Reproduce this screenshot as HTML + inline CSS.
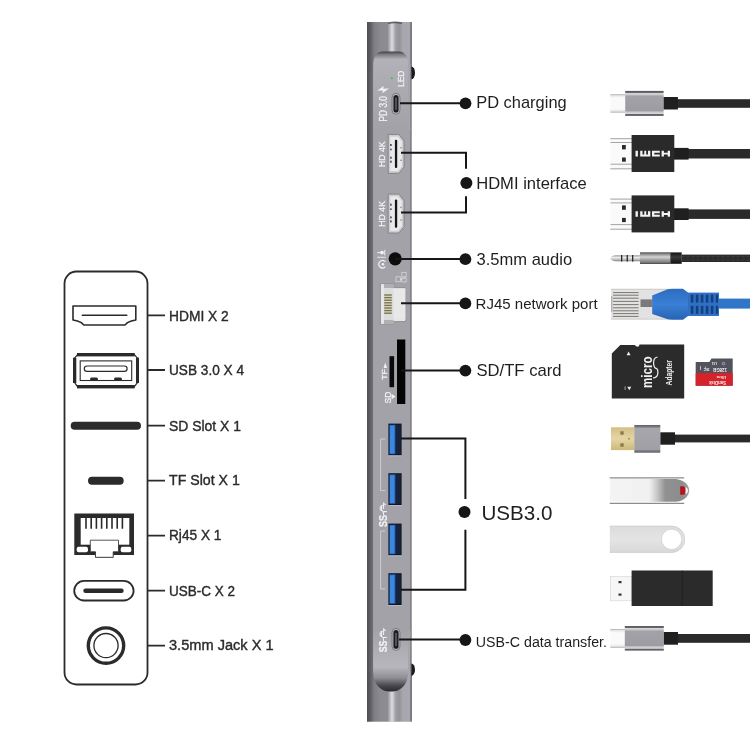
<!DOCTYPE html>
<html><head><meta charset="utf-8">
<style>
html,body{margin:0;padding:0;background:#fff;width:750px;height:750px;overflow:hidden}
svg{display:block;will-change:transform}
text{font-family:"Liberation Sans",sans-serif}
</style></head>
<body>
<svg width="750" height="750" viewBox="0 0 750 750">
<defs>
  <linearGradient id="hubTop" x1="367" y1="0" x2="411.6" y2="0" gradientUnits="userSpaceOnUse">
    <stop offset="0" stop-color="#4c4c52"/>
    <stop offset="0.08" stop-color="#5e5e64"/>
    <stop offset="0.16" stop-color="#7e7e84"/>
    <stop offset="0.3" stop-color="#8a8a90"/>
    <stop offset="0.46" stop-color="#8c8c92"/>
    <stop offset="0.56" stop-color="#dedee4"/>
    <stop offset="0.64" stop-color="#a0a0a6"/>
    <stop offset="0.72" stop-color="#929298"/>
    <stop offset="0.8" stop-color="#a6a6ac"/>
    <stop offset="0.96" stop-color="#a8a8ae"/>
    <stop offset="0.98" stop-color="#707076"/>
    <stop offset="1" stop-color="#5e5e64"/>
  </linearGradient>
  <linearGradient id="hubSide" x1="367" y1="0" x2="411.6" y2="0" gradientUnits="userSpaceOnUse">
    <stop offset="0" stop-color="#4c4c52"/>
    <stop offset="0.05" stop-color="#5a5a60"/>
    <stop offset="0.13" stop-color="#6e6e74"/>
    <stop offset="0.14" stop-color="#9a99a0"/>
    <stop offset="0.965" stop-color="#a3a2a9"/>
    <stop offset="0.975" stop-color="#707076"/>
    <stop offset="1" stop-color="#5e5e64"/>
  </linearGradient>
  <linearGradient id="plateTop" x1="0" y1="51.4" x2="0" y2="130" gradientUnits="userSpaceOnUse">
    <stop offset="0" stop-color="#3e3e44"/>
    <stop offset="0.04" stop-color="#7c7c82"/>
    <stop offset="0.1" stop-color="#b2b2b8"/>
    <stop offset="0.35" stop-color="#acacb2"/>
    <stop offset="1" stop-color="#a3a2a9"/>
  </linearGradient>
  <linearGradient id="plateBot" x1="0" y1="630" x2="0" y2="691.4" gradientUnits="userSpaceOnUse">
    <stop offset="0" stop-color="#a3a2a9"/>
    <stop offset="0.6" stop-color="#b6b6bc"/>
    <stop offset="0.78" stop-color="#8e8e94"/>
    <stop offset="0.9" stop-color="#4a4a50"/>
    <stop offset="1" stop-color="#2a2a30"/>
  </linearGradient>
</defs>

<!-- ============ LEFT PANEL ============ -->
<g fill="none" stroke="#2b2b2b" stroke-width="1.8">
  <rect x="64.5" y="271.5" width="83" height="413" rx="12" ry="12"/>
  <!-- connector ticks -->
  <path d="M148 315.3H165M148 370H165M148 425.6H165M148 480.7H165M148 535.7H165M148 590.7H165M148 645.6H165"/>
  <!-- HDMI icon -->
  <path d="M73 306H135.8V320Q131 320.6 127.5 322.6L125 325H83.8L81.3 322.6Q77.8 320.6 73 320Z" stroke-width="1.6" stroke-linejoin="round"/>
  <path d="M82.3 315.2H126.8" stroke-width="1.5" stroke-linecap="round"/>
</g>
<!-- USB icon -->
<g fill="#2b2b2b">
  <rect x="77" y="353" width="57.7" height="3.4"/>
  <rect x="77" y="385" width="57.7" height="3.4"/>
  <rect x="73" y="357.7" width="3.3" height="25.3"/>
  <rect x="136" y="357.7" width="3" height="25.3"/>
  <rect x="90" y="377.5" width="8" height="3" rx="1.5"/>
  <rect x="114" y="377.5" width="8" height="3" rx="1.5"/>
  <!-- SD / TF bars -->
  <rect x="70.7" y="421.7" width="70.3" height="8" rx="4"/>
  <rect x="88" y="476.7" width="35.7" height="8" rx="4"/>
  <!-- RJ45 -->
  <path d="M74.3 513.6H134V555H113.3V557.6H95.3V555H74.3Z"/>
</g>
<g fill="none" stroke="#2b2b2b">
  <path d="M77.5 354.7H134.3L137.5 358.2V382.6L134.3 386.7H77.5L74.6 382.6V358.2Z" stroke-width="1.2"/>
  <rect x="80.2" y="360.9" width="51.5" height="19.6" stroke-width="1.1"/>
  <rect x="84.3" y="366" width="42.8" height="5.4" rx="2.7" stroke-width="1.2"/>
</g>
<g>
  <rect x="80.7" y="518" width="48.6" height="26.7" fill="#fff"/>
  <g stroke="#2b2b2b" stroke-width="1.6">
    <path d="M86 518V528.7M91.2 518V528.7M96.4 518V528.7M101.6 518V528.7M106.8 518V528.7M112 518V528.7M117.2 518V528.7M122.4 518V528.7"/>
  </g>
  <rect x="76.7" y="546.7" width="11.3" height="5.6" rx="2" fill="#fff"/>
  <rect x="120.7" y="546.7" width="10.6" height="5.6" rx="2" fill="#fff"/>
  <path d="M90.3 540.2H118.5V551.8H113.2V557.3H95.5V551.8H90.3Z" fill="#fff" stroke="#2b2b2b" stroke-width="0.8"/>
</g>
<!-- USB-C -->
<g fill="none" stroke="#2b2b2b">
  <rect x="74.2" y="580.9" width="59.4" height="19.6" rx="9.8" stroke-width="1.8"/>
  <path d="M85.5 590.8H121.5" stroke-width="4.4" stroke-linecap="round"/>
  <circle cx="106" cy="645.6" r="17.7" stroke-width="3.4"/>
  <circle cx="106" cy="645.6" r="12.1" stroke-width="1.3"/>
</g>
<g fill="#2b2b2b" stroke="#2b2b2b" stroke-width="0.4" font-size="15.2" lengthAdjust="spacingAndGlyphs">
  <text x="169" y="321.4" textLength="59.8" lengthAdjust="spacingAndGlyphs">HDMI X 2</text>
  <text x="169" y="375" textLength="75" lengthAdjust="spacingAndGlyphs">USB 3.0 X 4</text>
  <text x="169" y="431.1" textLength="72" lengthAdjust="spacingAndGlyphs">SD Slot X 1</text>
  <text x="169" y="484.9" textLength="70.8" lengthAdjust="spacingAndGlyphs">TF Slot X 1</text>
  <text x="169" y="540" textLength="52.4" lengthAdjust="spacingAndGlyphs">Rj45 X 1</text>
  <text x="169" y="595.6" textLength="66" lengthAdjust="spacingAndGlyphs">USB-C X 2</text>
  <text x="169" y="650.3" textLength="104.6" lengthAdjust="spacingAndGlyphs">3.5mm Jack X 1</text>
</g>

<!-- ============ HUB ============ -->
<g>
  <rect x="367" y="22" width="44.6" height="699.5" fill="url(#hubSide)"/>
  <rect x="367" y="22" width="44.6" height="50" fill="url(#hubTop)"/>
  <rect x="367" y="672" width="44.6" height="49.5" fill="url(#hubTop)"/>
  <path d="M388 22.5Q395 20.5 402 22.5V24Q395 22.5 388 24Z" fill="#4a4a50" opacity="0.8"/>
  <!-- side bumps -->
  <path d="M411.4 66.5a3.6 6.4 0 0 1 0 12.8z" fill="#1a1a1e"/>
  <path d="M411.4 663.5a3.6 6.2 0 0 1 0 12.4z" fill="#1a1a1e"/>
  <!-- plate -->
  <path d="M373.2 130V65.5C373.2 57 376.5 51.4 382.5 51.4H399C405 51.4 408.3 57 408.3 65.5V130Z" fill="url(#plateTop)"/>
  <rect x="373.2" y="128" width="37.2" height="510" fill="#a3a2a9"/>
    <path d="M408.3 64V130H410.4V64Z" fill="#a6a6ac"/>
  <path d="M373.2 630V670C373.2 685.5 381 691.6 390.8 691.6C400.5 691.6 408.3 685.5 408.3 670V630Z" fill="url(#plateBot)"/>
  <path d="M408.3 630V680H410.4V630Z" fill="#a6a6ac"/>
</g>
<!-- hub ports -->
<g>
  <!-- PD usb-c -->
  <rect x="392.1" y="93.4" width="7.8" height="20.8" rx="3.9" fill="#c4c4c8" stroke="#5a5a60" stroke-width="0.7"/>
  <rect x="393.4" y="95" width="5.2" height="17.6" rx="2.6" fill="#1c1c20"/>
  <rect x="395.3" y="97.6" width="1.4" height="12.4" rx="0.7" fill="#6a6a70"/>
  <!-- HDMI 1 -->
  <g id="hd1">
    <path d="M388.2 134.4H398.8L404 140.8V167L398.8 173.3H388.2Z" fill="#cfcfd2" stroke="#76767c" stroke-width="0.8"/>
    <path d="M389.8 136.2H398L402.3 141.6V166.2L398 171.5H389.8Z" fill="#e9e9eb" stroke="#bcbcc0" stroke-width="0.4"/>
    <rect x="394.9" y="139.7" width="2.3" height="28.3" rx="1" fill="#161618"/>
    <g fill="#4a4a4e">
      <rect x="390.1" y="144" width="1.6" height="2"/>
      <rect x="390.1" y="148.7" width="1.6" height="1.6"/>
      <rect x="390.1" y="156.7" width="1.6" height="2"/>
      <rect x="390.1" y="160.7" width="1.6" height="2"/>
    </g>
    <rect x="400.3" y="147" width="1.4" height="1.4" fill="#8a8a8e"/>
    <rect x="400.3" y="159.6" width="1.4" height="1.4" fill="#8a8a8e"/>
  </g>
  <use href="#hd1" y="59.7"/>
  <!-- audio jack -->
  <circle cx="395.2" cy="258.8" r="6.6" fill="#0c0c0c"/>
  <!-- RJ45 -->
  <path d="M380.4 283.6H393.8V288H405.6V321.6H393.8V324.4H380.4Z" fill="#e6e6e8" stroke="#7c7c82" stroke-width="0.7"/>
  <rect x="384" y="284" width="9.6" height="4.2" fill="#b0b0b2"/>
  <rect x="384" y="320" width="9.6" height="4.2" fill="#b0b0b2"/>
  <rect x="384" y="288.2" width="21.4" height="31.8" fill="#dcdcdc"/>
  <rect x="393.6" y="288.6" width="11.6" height="31.2" fill="#e8e8e8"/>
  <g fill="#7a7440">
    <rect x="384.2" y="294.3" width="7.6" height="1.4"/>
    <rect x="384.2" y="296.9" width="7.6" height="1.4"/>
    <rect x="384.2" y="299.5" width="7.6" height="1.4"/>
    <rect x="384.2" y="302.1" width="7.6" height="1.4"/>
    <rect x="384.2" y="304.7" width="7.6" height="1.4"/>
    <rect x="384.2" y="307.3" width="7.6" height="1.4"/>
    <rect x="384.2" y="309.9" width="7.6" height="1.4"/>
    <rect x="384.2" y="312.5" width="7.6" height="1.4"/>
  </g>
  <!-- SD / TF slots -->
  <rect x="397" y="339.5" width="8.3" height="64.5" fill="#050505"/>
  <rect x="389.5" y="356.2" width="4.6" height="31" fill="#0a0a0a"/>
  <!-- USB A ports -->
  <g id="ua1">
    <rect x="388.4" y="423.6" width="13.2" height="31.8" fill="#0e1626"/>
    <rect x="389.4" y="424.8" width="6.2" height="29.4" fill="#2a62b8"/>
    <rect x="390" y="425.6" width="4.4" height="27.8" fill="#3b88de"/>
    <rect x="395.6" y="424.8" width="5.2" height="29.4" fill="#17233c"/>
    <rect x="388.4" y="455.4" width="13.2" height="0.9" fill="#bcbcc2"/>
  </g>
  <use href="#ua1" y="49.6"/>
  <use href="#ua1" y="100"/>
  <use href="#ua1" y="149.6"/>
  <!-- bottom usb-c -->
  <rect x="392.1" y="628.5" width="7.8" height="21.9" rx="3.9" fill="#c4c4c8" stroke="#5a5a60" stroke-width="0.7"/>
  <rect x="393.4" y="630.1" width="5.2" height="18.7" rx="2.6" fill="#1c1c20"/>
  <rect x="395.3" y="632.8" width="1.4" height="13.3" rx="0.7" fill="#6a6a70"/>
  <!-- LED dot -->
  <circle cx="391.8" cy="78.3" r="1" fill="#39c24a"/>
  <!-- SS bracket -->
  <path d="M385.3 439H380.6V490.6H385.3M385.3 531H380.6V589H385.3" fill="none" stroke="#dcdce0" stroke-width="0.7"/>
</g>
<g fill="#f2f2f4" stroke="#f2f2f4" stroke-width="0.25">
  <text transform="translate(403.6 87) rotate(-90)" font-size="8.8" textLength="16.4" lengthAdjust="spacingAndGlyphs">LED</text>
  <text transform="translate(387.3 121.5) rotate(-90)" font-size="10.2" textLength="25.5" lengthAdjust="spacingAndGlyphs">PD 3.0</text>
  <path d="M377.6 90.6L383.4 86.2L383.2 89L388.6 88.4L382.6 93L382.8 90.2Z"/>
  <text transform="translate(384.8 167) rotate(-90)" font-size="8.8" textLength="25.7" lengthAdjust="spacingAndGlyphs">HD 4K</text>
  <text transform="translate(384.8 226.7) rotate(-90)" font-size="8.8" textLength="25.7" lengthAdjust="spacingAndGlyphs">HD 4K</text>
  <text transform="translate(386.7 380) rotate(-90)" font-size="7.8" textLength="11" lengthAdjust="spacingAndGlyphs">TF</text>
  <text transform="translate(391 403.5) rotate(-90)" font-size="8.8" textLength="11.8" lengthAdjust="spacingAndGlyphs">SD</text>
  <path d="M383.6 368L385.3 362.6L387 368Z" stroke="none"/>
  <path d="M391.6 394L395.6 396.6L391.6 399.2Z" stroke="none"/>
  <text transform="translate(387 527) rotate(-90)" font-size="10" font-weight="bold" textLength="12" lengthAdjust="spacingAndGlyphs">SS</text>
  <text transform="translate(387 652.2) rotate(-90)" font-size="10" font-weight="bold" textLength="11.6" lengthAdjust="spacingAndGlyphs">SS</text>
</g>
<g fill="none" stroke="#f2f2f4" stroke-width="0.9" stroke-linecap="round">
  <!-- SS trident approx -->
  <path d="M383.6 514.8Q383.6 511 381.4 510.6Q379.8 510.2 380.2 507M383.6 511.6H386.4M381.6 510.4V506.4M383.6 508.6V503.2L385.4 504.8M380.6 506.2L382.4 505.4" stroke-width="1.05"/>
  <path d="M383.6 640.6Q383.6 636.8 381.4 636.4Q379.8 636 380.2 632.8M383.6 637.4H386.4M381.6 636.2V632.2M383.6 634.4V629L385.4 630.6M380.6 632L382.4 631.2" stroke-width="1.05"/>
  <!-- headphone / mic icon -->
  <path d="M377.6 252.6H380.2M384.8 250.3V255" stroke-width="1"/>
  <path d="M377.6 257.3H385.4" stroke-width="0.9"/>
  <path d="M385 261.4A3.7 3.7 0 1 0 385 267" stroke-width="1.2"/>
  <!-- network icon -->
  <path d="M396.3 276.8H400.6V281.6H396.3ZM402.2 272.4H406.2V277H402.2ZM402.2 278H406.2V282H402.2ZM400.6 279.2H402.2M404.2 277V278" stroke-width="0.55"/>
</g>
<g fill="#f2f2f4">
  <circle cx="382" cy="252.6" r="1.9"/>
  <circle cx="382.9" cy="264.2" r="1.3"/>
</g>
<!-- ============ LABEL LINES ============ -->
<g fill="none" stroke="#161616" stroke-width="2">
  <path d="M400 103.2H465"/>
  <path d="M401 152.8H466V168.8M466 196.3V212.4H401"/>
  <path d="M395 259H465"/>
  <path d="M401 303.3H465"/>
  <path d="M401 370.5H465"/>
  <path d="M401 438.5H465.4V499M465.4 529.7V589.7H401"/>
  <path d="M399 639.5H465"/>
</g>
<g fill="#161616">
  <circle cx="465.5" cy="103.3" r="5.9"/>
  <circle cx="466.4" cy="182.9" r="6"/>
  <circle cx="465.4" cy="259.2" r="5.9"/>
  <circle cx="465.4" cy="303.4" r="5.9"/>
  <circle cx="465.4" cy="370.6" r="5.9"/>
  <circle cx="464.5" cy="512" r="6"/>
  <circle cx="465.4" cy="640" r="5.9"/>
</g>
<g fill="#1e1e1e" font-size="16.2">
  <text x="476.2" y="108.2" textLength="90.5" lengthAdjust="spacingAndGlyphs">PD charging</text>
  <text x="476.2" y="189.4" textLength="110.5" lengthAdjust="spacingAndGlyphs">HDMI interface</text>
  <text x="476.6" y="265.2" textLength="95.5" lengthAdjust="spacingAndGlyphs">3.5mm audio</text>
  <text x="475.6" y="308.7" font-size="15.4" textLength="122" lengthAdjust="spacingAndGlyphs">RJ45 network port</text>
  <text x="476.5" y="376.1" textLength="85" lengthAdjust="spacingAndGlyphs">SD/TF card</text>
  <text x="481.4" y="520" font-size="20.4" textLength="71" lengthAdjust="spacingAndGlyphs">USB3.0</text>
  <text x="475.8" y="646.9" font-size="15.4" textLength="131.2" lengthAdjust="spacingAndGlyphs">USB-C data transfer.</text>
</g>

<!-- ============ CABLES ============ -->
<defs>
  <linearGradient id="sleeveC" x1="0" y1="0" x2="0" y2="1">
    <stop offset="0" stop-color="#58585c"/>
    <stop offset="0.07" stop-color="#6a6a6e"/>
    <stop offset="0.09" stop-color="#d6d6da"/>
    <stop offset="0.16" stop-color="#c8c8cc"/>
    <stop offset="0.2" stop-color="#a2a2a8"/>
    <stop offset="0.8" stop-color="#9c9ca2"/>
    <stop offset="0.84" stop-color="#c8c8cc"/>
    <stop offset="0.91" stop-color="#d6d6da"/>
    <stop offset="0.93" stop-color="#6a6a6e"/>
    <stop offset="1" stop-color="#58585c"/>
  </linearGradient>
  <linearGradient id="tipC" x1="0" y1="0" x2="0" y2="1">
    <stop offset="0" stop-color="#a8a8a8"/>
    <stop offset="0.08" stop-color="#e6e6e6"/>
    <stop offset="0.2" stop-color="#fafafa"/>
    <stop offset="0.8" stop-color="#fafafa"/>
    <stop offset="0.92" stop-color="#e6e6e6"/>
    <stop offset="1" stop-color="#a8a8a8"/>
  </linearGradient>
  <linearGradient id="jackSl" x1="0" y1="0" x2="0" y2="1">
    <stop offset="0" stop-color="#4a4a4a"/>
    <stop offset="0.15" stop-color="#8a8a8a"/>
    <stop offset="0.4" stop-color="#d6d6d6"/>
    <stop offset="0.6" stop-color="#a8a8a8"/>
    <stop offset="0.85" stop-color="#808080"/>
    <stop offset="1" stop-color="#444"/>
  </linearGradient>
  <linearGradient id="jackTip" x1="0" y1="0" x2="0" y2="1">
    <stop offset="0" stop-color="#9a9a9a"/>
    <stop offset="0.35" stop-color="#ececec"/>
    <stop offset="0.7" stop-color="#c0c0c0"/>
    <stop offset="1" stop-color="#7a7a7a"/>
  </linearGradient>
  <linearGradient id="jackBand" x1="0" y1="0" x2="0" y2="1">
    <stop offset="0" stop-color="#111"/>
    <stop offset="0.4" stop-color="#3a3a3a"/>
    <stop offset="1" stop-color="#111"/>
  </linearGradient>
  <linearGradient id="gold" x1="0" y1="0" x2="0" y2="1">
    <stop offset="0" stop-color="#d2bf84"/>
    <stop offset="0.5" stop-color="#e4d6a4"/>
    <stop offset="1" stop-color="#cdb87a"/>
  </linearGradient>
  <linearGradient id="sleeveA" x1="0" y1="0" x2="0" y2="1">
    <stop offset="0" stop-color="#5e5e64"/>
    <stop offset="0.07" stop-color="#7a7a80"/>
    <stop offset="0.12" stop-color="#a6a6ac"/>
    <stop offset="0.88" stop-color="#a0a0a6"/>
    <stop offset="0.93" stop-color="#7a7a80"/>
    <stop offset="1" stop-color="#5e5e64"/>
  </linearGradient>
  <linearGradient id="flash1" x1="609.8" y1="0" x2="689" y2="0" gradientUnits="userSpaceOnUse">
    <stop offset="0" stop-color="#f4f4f4"/>
    <stop offset="0.5" stop-color="#f0f0f0"/>
    <stop offset="0.6" stop-color="#c6c6c6"/>
    <stop offset="0.7" stop-color="#919191"/>
    <stop offset="0.9" stop-color="#8c8c8c"/>
    <stop offset="1" stop-color="#a0a0a0"/>
  </linearGradient>
  <linearGradient id="flash2" x1="0" y1="0" x2="0" y2="1">
    <stop offset="0" stop-color="#dcdcdc"/>
    <stop offset="0.5" stop-color="#e4e4e4"/>
    <stop offset="1" stop-color="#d8d8d8"/>
  </linearGradient>
  <linearGradient id="blueBoot" x1="0" y1="0" x2="0" y2="1">
    <stop offset="0" stop-color="#2d6cc0"/>
    <stop offset="0.5" stop-color="#3a80d6"/>
    <stop offset="1" stop-color="#2863b4"/>
  </linearGradient>
</defs>
<!-- USB-C cable top -->
<g id="cc1">
  <rect x="677" y="99.2" width="73" height="8.6" fill="#2a2a2a"/>
  <rect x="663.3" y="97" width="14.6" height="12.5" fill="#1f1f1f"/>
  <rect x="610.3" y="94.2" width="15" height="18.4" fill="url(#tipC)"/>
  <rect x="625.2" y="90.9" width="38.4" height="25" fill="url(#sleeveC)"/>
</g>
<!-- HDMI cables -->
<g id="hdc">
  <rect x="688" y="149" width="62" height="9.5" fill="#2a2a2a"/>
  <rect x="674" y="147.9" width="14.6" height="11.7" fill="#1f1f1f"/>
  <rect x="610.3" y="137.8" width="21.8" height="32" fill="#fafafa"/>
  <path d="M610.3 138.7H632M610.3 168.8H632M610.5 142.5H632M610.5 164.2H632" stroke="#9a9a9a" stroke-width="0.9"/>
  <rect x="622" y="145" width="3.8" height="4.4" fill="#2a2a2a"/>
  <rect x="622" y="157.5" width="3.8" height="4.2" fill="#2a2a2a"/>
  <rect x="631.6" y="135" width="42.7" height="37" fill="#2a2a2a"/>
  <path d="M635.5 150.8h2.4v5.6h-2.4zM640.2 150.8h2.3v3.6h1.8v-3.6h1.9v3.6h1.8v-3.6h2.3v5.6h-10.1zM652 150.8h7.8v2h-5.5v1.6h5.5v2h-7.8zM661.6 150.8h2.3v1.9h3.8v-1.9h2.3v5.6h-2.3v-1.8h-3.8v1.8h-2.3z" fill="#f2f2f2"/>
</g>
<use href="#hdc" y="60.4"/>
<!-- audio -->
<g>
  <rect x="681.5" y="254.6" width="68.5" height="7.4" fill="#2c2c2c"/>
  <path d="M681.5 256.4H750M681.5 260H750" stroke="#4a4a4a" stroke-width="0.6" stroke-dasharray="3 2"/>
  <path d="M640 255.3H616Q611 255.6 610.6 258.3Q611 261 616 261.3H640Z" fill="url(#jackTip)"/>
  <rect x="621" y="255" width="1.3" height="6.6" fill="#2a2a2a"/>
  <rect x="626.6" y="255" width="1.3" height="6.6" fill="#2a2a2a"/>
  <rect x="632" y="255" width="1.3" height="6.6" fill="#2a2a2a"/>
  <rect x="640" y="252.3" width="30.4" height="11.7" fill="url(#jackSl)"/>
  <rect x="670.3" y="252.4" width="11.4" height="11.4" fill="url(#jackBand)"/>
</g>
<!-- RJ45 cable -->
<g>
  <rect x="716" y="298.6" width="34" height="10" fill="#3076c8"/>
  <rect x="611" y="288.8" width="59" height="30.8" fill="#e2e2e2"/>
  <rect x="611" y="288.8" width="59" height="1.2" fill="#cfcfcf"/>
  <rect x="611" y="318.4" width="59" height="1.2" fill="#d2d2d2"/>
  <path d="M613 292.6H638.6M613 295.2H638.6M613 298.2H638.6M613 301.4H638.6M613 304.6H638.6M613 307.8H638.6M613 310.8H638.6M613 313.6H638.6M613 316.4H638.6" stroke="#6e6a62" stroke-width="0.9"/>
  <path d="M611.8 296V312" stroke="#8a8a8a" stroke-width="0.8"/>
  <rect x="640.5" y="299.4" width="12" height="7.6" fill="#7a7a7a"/>
  <path d="M652.2 295.6L667 289.6Q669 288.8 672 288.8H683L688 292.6V316L683 319.8H672Q669 319.8 667 319L652.2 314Z" fill="url(#blueBoot)"/>
  <rect x="688" y="292.6" width="31" height="23.4" fill="#2e70c4"/>
  <g fill="#173f7e">
    <rect x="690.8" y="294.6" width="2.6" height="8"/><rect x="695.8" y="294.6" width="2.6" height="8"/><rect x="700.8" y="294.6" width="2.6" height="8"/><rect x="705.8" y="294.6" width="2.6" height="8"/><rect x="710.8" y="294.6" width="2.6" height="8"/><rect x="715.8" y="294.6" width="2.2" height="8"/>
    <rect x="690.8" y="305.8" width="2.6" height="8"/><rect x="695.8" y="305.8" width="2.6" height="8"/><rect x="700.8" y="305.8" width="2.6" height="8"/><rect x="705.8" y="305.8" width="2.6" height="8"/><rect x="710.8" y="305.8" width="2.6" height="8"/><rect x="715.8" y="305.8" width="2.2" height="8"/>
  </g>
</g>
<!-- microSD adapter + card -->
<g>
  <path d="M620.3 345H634.7L636.5 346.6H638.8L639.5 344.6H684.2V398.5H611.8V353.5Z" fill="#2b2b2b"/>
  <text transform="translate(652.4 388) rotate(-90)" font-size="15.5" font-weight="bold" fill="#f2f2f2" textLength="31.6" lengthAdjust="spacingAndGlyphs">micro</text>
  <text transform="translate(671.8 385.4) rotate(-90)" font-size="8.8" font-weight="bold" fill="#f2f2f2" textLength="25.2" lengthAdjust="spacingAndGlyphs">Adapter</text>
  <path d="M657.6 357Q653 357.6 653.6 364.2Q654.2 368.4 656.2 368.4Q658.2 369 657.8 373.6Q657.2 377.8 653 378" stroke="#f2f2f2" stroke-width="1.2" fill="none"/>
  <path d="M628.6 351.6L630.6 355.2H626.6Z" fill="#eee"/>
  <path d="M629.3 390.2L631.3 386.8H627.3Z" fill="#eee"/>
  <rect x="624.6" y="386.4" width="1" height="3.4" fill="#aaa"/>
  <path d="M695.7 362H709.3L711.5 358.6H732.7V385.7H695.7Z" fill="#52525c"/>
  <rect x="695.7" y="373" width="37" height="12.7" fill="#d6222a"/>
  <g fill="#ececf0">
    <text transform="translate(727 367.6) rotate(180)" font-size="5.6" font-weight="bold" textLength="14" lengthAdjust="spacingAndGlyphs">128GB</text>
    <text transform="translate(717 362) rotate(180)" font-size="4" font-weight="bold">U1</text>
    <circle cx="723.6" cy="363.6" r="1.3" fill="none" stroke="#ececf0" stroke-width="0.5"/>
    <text transform="translate(709.6 367.6) rotate(180)" font-size="4.4" font-weight="bold">XC</text>
    <rect x="700" y="366" width="0.7" height="4"/>
    <rect x="705" y="366.5" width="0.6" height="3"/>
  </g>
  <g fill="#f8eaea">
    <text transform="translate(726.2 376.4) rotate(180)" font-size="4.2" font-weight="bold">Ultra</text>
    <text transform="translate(726 381.2) rotate(180)" font-size="5" font-weight="bold" textLength="17" lengthAdjust="spacingAndGlyphs">SanDisk</text>
  </g>
</g>
<!-- USB-A cable -->
<g>
  <rect x="675" y="434.6" width="75" height="7.8" fill="#2a2a2a"/>
  <rect x="660.2" y="432.3" width="14.8" height="12.4" fill="#1f1f1f"/>
  <rect x="611" y="427.3" width="23.6" height="22.8" fill="url(#gold)"/>
  <rect x="620.3" y="431.3" width="3.4" height="3.4" fill="#8a7a4a"/>
  <rect x="620.3" y="443.3" width="3.4" height="3.4" fill="#8a7a4a"/>
  <circle cx="629" cy="438.7" r="1" fill="#a8945a"/>
  <rect x="634.3" y="425" width="26" height="27.7" fill="url(#sleeveA)"/>
</g>
<!-- flash drives -->
<g>
  <path d="M609.8 479H676C685.5 480.5 689.2 486 689.2 490.4C689.2 495 685.5 500.4 676 501.8H609.8Z" fill="url(#flash1)"/>
  <path d="M609.8 477.9H684.2M609.8 503.3H684.2" stroke="#8c8c8c" stroke-width="1.2"/>
  <path d="M680.2 486.2H683.4Q685.6 486.6 685.6 490.5Q685.6 494.4 683.4 494.8H680.2Z" fill="#b5161e"/>
  <path d="M685.6 487Q688 488 688 490.5Q688 493 685.6 494Z" fill="#f6f6f6"/>
  <path d="M609.8 525.8H671.6A13.5 13.5 0 0 1 671.6 552.8H609.8Z" fill="url(#flash2)"/>
  <path d="M609.8 526.2H671.6A13.1 13.1 0 0 1 671.6 552.4H609.8" fill="none" stroke="#cfcfcf" stroke-width="0.7"/>
  <circle cx="671.6" cy="539.3" r="10.2" fill="#fff" stroke="#c4c4c4" stroke-width="0.6"/>
  <rect x="610.3" y="576.3" width="21.5" height="24.5" fill="#f6f6f6" stroke="#d6d6d6" stroke-width="0.6"/>
  <rect x="618.5" y="581" width="3" height="2.2" fill="#333"/>
  <rect x="618.5" y="593.5" width="3" height="2.2" fill="#333"/>
  <rect x="631.6" y="570.5" width="81.1" height="35.5" fill="#2b2b2b"/>
  <path d="M682.2 570.5V606" stroke="#1e1e1e" stroke-width="0.8"/>
</g>
<!-- USB-C cable bottom -->
<g>
  <rect x="677" y="634" width="73" height="8.8" fill="#2a2a2a"/>
  <rect x="663.5" y="632" width="14.5" height="12.7" fill="#1f1f1f"/>
  <rect x="610.3" y="629" width="15" height="18.8" fill="url(#tipC)"/>
  <rect x="624.8" y="626" width="39" height="24.6" fill="url(#sleeveC)"/>
</g>
</svg>
</body></html>
